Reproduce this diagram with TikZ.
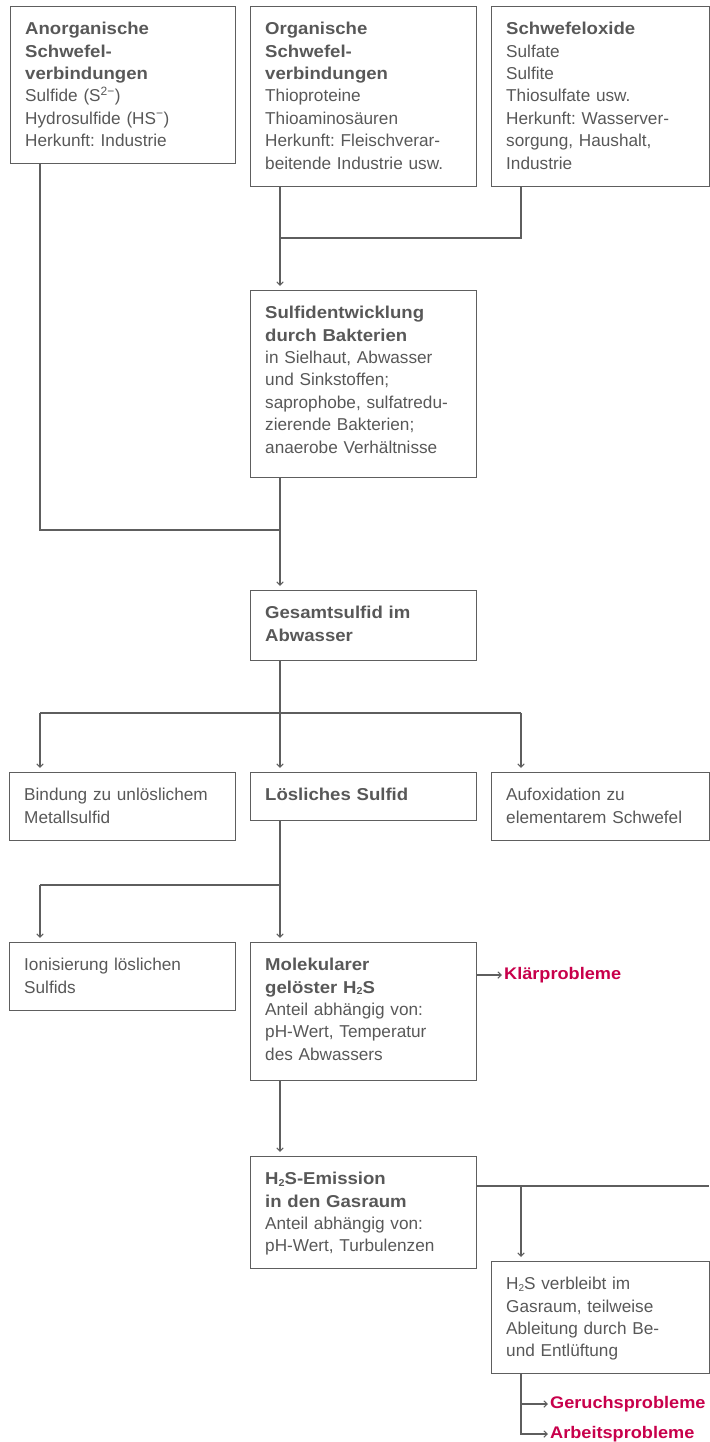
\documentclass[tikz,border=0pt]{standalone}
\usepackage{fontspec}
\setmainfont{Liberation Sans}[BoldFeatures={FakeStretch=1.08}]
\usetikzlibrary{arrows.meta,calc}
\definecolor{linec}{HTML}{5E5E5E}
\definecolor{txtc}{HTML}{585858}
\definecolor{probc}{HTML}{C8004B}
\frenchspacing
\newcommand\mkbox[6]{%
  \node[box, minimum width=#4pt, minimum height=#5pt] (#1) at (#2,#3) {};
  \node[txt] (#1t) at ($(#1.north west)+(15,16)$) {#6};}
\newcommand\subtwo{\raisebox{-0.2ex}{\fontsize{10}{10}\selectfont 2}}
\begin{document}
\begin{tikzpicture}[x=1pt,y=-1pt,
  box/.style={draw=linec, line width=1.2pt, anchor=north west, inner sep=0pt},
  txt/.style={anchor=north west, inner sep=0pt, text width=210pt, align=left, text=txtc,
    font=\fontsize{17.2}{22.4}\selectfont},
  conn/.style={draw=linec, line width=1.5pt},
  arr/.style={conn, -{Straight Barb[length=3.5pt,width=6.5pt,line width=1pt]}, shorten >=4pt},
  thinarr/.style={draw=linec, line width=1.1pt, -{Straight Barb[length=3.5pt,width=6.5pt,line width=1pt]}, shorten >=2pt},
  probtxt/.style={anchor=west, inner sep=0pt, text=probc, font=\fontsize{16.8}{22.4}\selectfont\bfseries}]
\useasboundingbox (0,0) rectangle (709,1442);

\mkbox{A}{10}{6}{225}{157}{\textbf{Anorganische\\Schwefel-\\verbindungen}\\Sulfide (S\textsuperscript{2−})\\Hydrosulfide (HS\textsuperscript{−})\\Herkunft: Industrie}
\mkbox{B}{250}{6}{226}{180}{\textbf{Organische\\Schwefel-\\verbindungen}\\Thioproteine\\Thioaminosäuren\\Herkunft: Fleischverar-\\beitende Industrie usw.}
\mkbox{C}{491}{6}{217.5}{180}{\textbf{Schwefeloxide}\\Sulfate\\Sulfite\\Thiosulfate usw.\\Herkunft: Wasserver-\\sorgung, Haushalt,\\Industrie}
\mkbox{D}{250}{290}{226}{187}{\textbf{Sulfidentwicklung\\durch Bakterien}\\in Sielhaut, Abwasser\\und Sinkstoffen;\\saprophobe, sulfatredu-\\zierende Bakterien;\\anaerobe Verhältnisse}
\mkbox{E}{250}{590}{226}{70}{\textbf{Gesamtsulfid im\\Abwasser}}
\mkbox{Fa}{9}{772}{226}{68}{Bindung zu unlöslichem\\Metallsulfid}
\mkbox{Fb}{250}{772}{226}{48}{\textbf{Lösliches Sulfid}}
\mkbox{Fc}{491}{772}{217.5}{68}{Aufoxidation zu\\elementarem Schwefel}
\mkbox{Ga}{9}{942}{226}{68}{Ionisierung löslichen\\Sulfids}
\mkbox{Gb}{250}{942}{226}{138}{\textbf{Molekularer\\gelöster H\subtwo S}\\Anteil abhängig von:\\pH-Wert, Temperatur\\des Abwassers}
\mkbox{H}{250}{1156}{226}{112}{\textbf{H\subtwo S-Emission\\in den Gasraum}\\Anteil abhängig von:\\pH-Wert, Turbulenzen}
\mkbox{I}{491}{1261}{217.5}{112}{H\subtwo S verbleibt im\\Gasraum, teilweise\\Ableitung durch Be-\\und Entlüftung}

\node[probtxt] (klaer) at (504,975) {Klärprobleme};
\node[probtxt] (ger) at (550,1404) {Geruchsprobleme};
\node[probtxt] (arb) at (550,1434) {Arbeitsprobleme};

% junction coordinates
\coordinate (jBC) at (280,238);
\coordinate (jAD) at (280,530);
\coordinate (jE) at (280,713);
\coordinate (jEl) at (40,713);
\coordinate (jEr) at (521,713);
\coordinate (jF) at (280,885);
\coordinate (jFl) at (40,885);
\coordinate (jH) at (521,1186);
\coordinate (edge) at (709,1186);

% top
\draw[conn] ($(C.south west)+(30,0)$) |- (jBC);
\draw[arr] ($(B.south west)+(30,0)$) -- ($(D.north west)+(30,0)$);
\draw[conn] ($(A.south west)+(30,0)$) |- (jAD);
\draw[arr] ($(D.south west)+(30,0)$) -- ($(E.north west)+(30,0)$);
% Gesamtsulfid branches
\draw[conn] ($(E.south west)+(30,0)$) -- (jE);
\draw[conn] (jEl) -- (jEr);
\draw[arr] (jEl) -- (Fa.north -| jEl);
\draw[arr] (jE) -- (Fb.north -| jE);
\draw[arr] (jEr) -- (Fc.north -| jEr);
% Loesliches Sulfid branches
\draw[conn] ($(Fb.south west)+(30,0)$) -- (jF);
\draw[conn] (jFl) -- (jF);
\draw[arr] (jFl) -- (Ga.north -| jFl);
\draw[arr] (jF) -- (Gb.north -| jF);
% Klaerprobleme
\draw[thinarr] (Gb.east |- klaer.west) -- (klaer.west);
% Molekularer -> Emission
\draw[arr] ($(Gb.south west)+(30,0)$) -- ($(H.north west)+(30,0)$);
% Emission -> right
\draw[conn] (H.east |- jH) -- (edge);
\draw[arr] (jH) -- (I.north -| jH);
% bottom problems
\draw[thinarr] ($(I.south west)+(30,0)$) |- (ger.west);
\draw[thinarr] ($(I.south west)+(30,0)$) |- (arb.west);
\end{tikzpicture}
\end{document}
